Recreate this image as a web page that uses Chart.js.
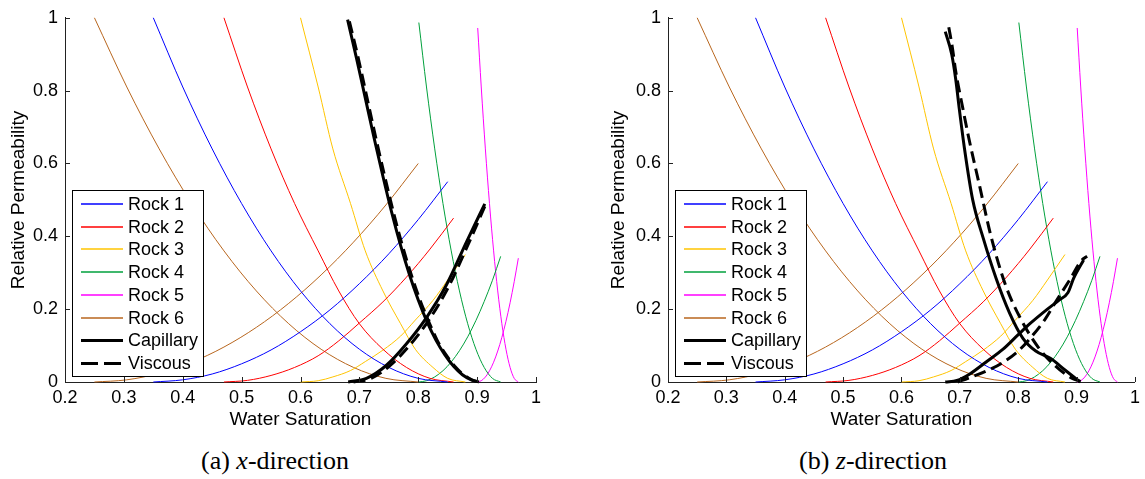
<!DOCTYPE html>
<html>
<head>
<meta charset="utf-8">
<script src="https://cdn.jsdelivr.net/npm/chart.js@4.4.0/dist/chart.umd.min.js"></script>
<style>
  body { margin: 0; background: #fff; width: 1145px; height: 479px; position: relative; overflow: hidden; }
  .panel { position: absolute; top: 0; }
  .caption { position: absolute; top: 446px; font-family: "Liberation Serif", "Times New Roman", serif; font-size: 26px; color: #000; white-space: nowrap; transform: translateX(-50%); }
</style>
</head>
<body>
<div class="panel" style="left:0px"><canvas id="chartX" width="570" height="440"></canvas></div>
<div class="panel" style="left:603px"><canvas id="chartZ" width="542" height="440"></canvas></div>
<div class="caption" style="left:275px">(a) <i>x</i>-direction</div>
<div class="caption" style="left:873px">(b) <i>z</i>-direction</div>
<script>
// axis ticks
const xTicks = [0.2, 0.3, 0.4, 0.5, 0.6, 0.7, 0.8, 0.9, 1];
const xTickLabels = ['0.2', '0.3', '0.4', '0.5', '0.6', '0.7', '0.8', '0.9', '1'];
const yTicks = [0, 0.2, 0.4, 0.6, 0.8, 1];
const yTickLabels = ['0', '0.2', '0.4', '0.6', '0.8', '1'];

const rockNames = ['Rock 1', 'Rock 2', 'Rock 3', 'Rock 4', 'Rock 5', 'Rock 6'];
const flowNames = ['Capillary', 'Viscous'];

// rock curves (same in both panels): saturation, falling curve, rising curve
const rock1Sw  = [0.35, 0.40, 0.45, 0.50, 0.55, 0.60, 0.65, 0.70, 0.75, 0.80, 0.85];
const rock1Kro = [1.00, 0.81, 0.64, 0.49, 0.36, 0.25, 0.16, 0.09, 0.04, 0.01, 0.00];
const rock1Krw = [0.00, 0.006, 0.022, 0.05, 0.088, 0.138, 0.198, 0.27, 0.352, 0.446, 0.55];

const rock2Sw  = [0.47, 0.51, 0.55, 0.59, 0.63, 0.665, 0.70, 0.74, 0.78, 0.82, 0.86];
const rock2Kro = [1.00, 0.81, 0.64, 0.49, 0.36, 0.25, 0.16, 0.09, 0.04, 0.01, 0.00];
const rock2Krw = [0.00, 0.0045, 0.018, 0.04, 0.072, 0.113, 0.162, 0.22, 0.288, 0.365, 0.45];

const rock3Sw  = [0.60, 0.63, 0.655, 0.685, 0.71, 0.74, 0.77, 0.795, 0.825, 0.85, 0.88];
const rock3Kro = [1.00, 0.81, 0.64, 0.49, 0.36, 0.25, 0.16, 0.09, 0.04, 0.01, 0.00];
const rock3Krw = [0.00, 0.0035, 0.014, 0.0315, 0.056, 0.0875, 0.126, 0.17, 0.224, 0.28, 0.35];

const rock4Sw  = [0.801, 0.814, 0.828, 0.842, 0.856, 0.87, 0.884, 0.898, 0.912, 0.926, 0.94];
const rock4Kro = [0.987, 0.81, 0.64, 0.49, 0.36, 0.25, 0.16, 0.09, 0.04, 0.01, 0.00];
const rock4Krw = [0.00, 0.0035, 0.014, 0.031, 0.055, 0.086, 0.124, 0.169, 0.221, 0.279, 0.345];

const rock5Sw  = [0.901, 0.907, 0.914, 0.921, 0.928, 0.935, 0.942, 0.949, 0.956, 0.963, 0.97];
const rock5Kro = [0.972, 0.81, 0.64, 0.49, 0.36, 0.25, 0.16, 0.09, 0.04, 0.01, 0.00];
const rock5Krw = [0.00, 0.0034, 0.0136, 0.0306, 0.0544, 0.085, 0.1224, 0.1666, 0.2176, 0.2754, 0.34];

const rock6Sw  = [0.25, 0.305, 0.36, 0.415, 0.47, 0.525, 0.58, 0.635, 0.69, 0.745, 0.80];
const rock6Kro = [1.00, 0.81, 0.64, 0.49, 0.36, 0.25, 0.16, 0.09, 0.04, 0.01, 0.00];
const rock6Krw = [0.00, 0.006, 0.024, 0.054, 0.096, 0.15, 0.216, 0.294, 0.384, 0.486, 0.60];

// upscaled curves, x-direction
const capXDecSw = [0.680, 0.695, 0.710, 0.725, 0.740, 0.755, 0.770, 0.785, 0.800, 0.815, 0.830, 0.845, 0.860, 0.875, 0.890, 0.903];
const capXDecKr = [0.995, 0.890, 0.780, 0.670, 0.565, 0.465, 0.375, 0.295, 0.225, 0.165, 0.115, 0.075, 0.043, 0.020, 0.006, 0.000];
const capXIncSw = [0.681, 0.712, 0.746, 0.780, 0.814, 0.848, 0.882, 0.913];
const capXIncKr = [0.000, 0.010, 0.046, 0.105, 0.177, 0.267, 0.385, 0.489];
const visXDecSw = [0.683, 0.698, 0.713, 0.728, 0.743, 0.758, 0.773, 0.788, 0.803, 0.818, 0.832, 0.847, 0.862, 0.877, 0.891, 0.904];
const visXDecKr = [0.990, 0.890, 0.780, 0.670, 0.565, 0.465, 0.375, 0.295, 0.225, 0.165, 0.115, 0.075, 0.043, 0.020, 0.006, 0.000];
const visXIncSw = [0.690, 0.720, 0.752, 0.785, 0.818, 0.851, 0.884, 0.913];
const visXIncKr = [0.000, 0.010, 0.045, 0.100, 0.170, 0.260, 0.375, 0.482];

// upscaled curves, z-direction
const capZDecSw = [0.675, 0.686, 0.693, 0.699, 0.708, 0.722, 0.740, 0.762, 0.785, 0.808, 0.830, 0.855, 0.880, 0.906];
const capZDecKr = [0.962, 0.900, 0.830, 0.750, 0.640, 0.500, 0.395, 0.285, 0.190, 0.120, 0.085, 0.065, 0.033, 0.000];
const capZIncSw = [0.675, 0.695, 0.717, 0.745, 0.774, 0.800, 0.820, 0.850, 0.870, 0.885, 0.895, 0.912];
const capZIncKr = [0.000, 0.004, 0.022, 0.055, 0.090, 0.130, 0.160, 0.200, 0.225, 0.245, 0.285, 0.335];
const visZDecSw = [0.681, 0.687, 0.693, 0.704, 0.715, 0.734, 0.753, 0.778, 0.803, 0.834, 0.865, 0.890, 0.909];
const visZDecKr = [0.974, 0.920, 0.852, 0.760, 0.672, 0.537, 0.402, 0.267, 0.177, 0.096, 0.042, 0.012, 0.000];
const visZIncSw = [0.696, 0.715, 0.745, 0.771, 0.800, 0.822, 0.845, 0.865, 0.888, 0.909, 0.918];
const visZIncKr = [0.000, 0.011, 0.030, 0.051, 0.085, 0.123, 0.170, 0.222, 0.280, 0.335, 0.345];

const rockColors = ['#0000ff', '#ff0000', '#ffc400', '#00a03c', '#ff00ff', '#b8661e'];
const rockData = [
  [rock1Sw, rock1Kro, rock1Krw],
  [rock2Sw, rock2Kro, rock2Krw],
  [rock3Sw, rock3Kro, rock3Krw],
  [rock4Sw, rock4Kro, rock4Krw],
  [rock5Sw, rock5Kro, rock5Krw],
  [rock6Sw, rock6Kro, rock6Krw]
];

const FONT = '"Liberation Sans", Arial, Helvetica, sans-serif';
Chart.defaults.font.family = FONT;
Chart.defaults.color = '#000';

function pts(xs, ys) {
  return xs.map((x, i) => ({ x: x, y: ys[i] }));
}

function line(label, data, color, width, dash, inLegend, order) {
  return {
    label: label,
    data: data,
    borderColor: color,
    backgroundColor: color,
    borderWidth: width,
    borderDash: dash,
    pointRadius: 0,
    fill: false,
    cubicInterpolationMode: 'monotone',
    inLegend: inLegend,
    order: order
  };
}

function buildDatasets(capDec, capInc, visDec, visInc) {
  const sets = [];
  rockData.forEach((r, i) => {
    sets.push(line(rockNames[i], pts(r[0], r[1]), rockColors[i], 1, [], true, 2));
    sets.push(line(rockNames[i], pts(r[0], r[2]), rockColors[i], 1, [], false, 2));
  });
  sets.push(line(flowNames[0], capDec, '#000', 3, [], true, 1));
  sets.push(line(flowNames[0], capInc, '#000', 3, [], false, 1));
  sets.push(line(flowNames[1], visDec, '#000', 3, [12, 6], true, 0));
  sets.push(line(flowNames[1], visInc, '#000', 3, [12, 6], false, 0));
  return sets;
}

// MATLAB style ticks pointing into the plot
const inwardTicks = {
  id: 'inwardTicks',
  afterDatasetsDraw(chart) {
    const ctx = chart.ctx;
    const a = chart.chartArea;
    const sx = chart.scales.x, sy = chart.scales.y;
    ctx.save();
    ctx.strokeStyle = '#222';
    ctx.lineWidth = 1;
    ctx.beginPath();
    xTicks.forEach(v => {
      const px = Math.round(sx.getPixelForValue(v)) + 0.5;
      ctx.moveTo(px, a.bottom);
      ctx.lineTo(px, a.bottom - 5);
    });
    yTicks.forEach(v => {
      const py = Math.round(sy.getPixelForValue(v)) + 0.5;
      ctx.moveTo(a.left, py);
      ctx.lineTo(a.left + 5, py);
    });
    ctx.stroke();
    ctx.restore();
  }
};

// legend box in the lower left corner of the plot
const boxLegend = {
  id: 'boxLegend',
  afterDraw(chart) {
    const ctx = chart.ctx;
    const x0 = chart.chartArea.left + 7, y0 = 190, w = 131, h = 186;
    ctx.save();
    ctx.fillStyle = '#fff';
    ctx.fillRect(x0, y0, w, h);
    ctx.strokeStyle = '#000';
    ctx.lineWidth = 1;
    ctx.strokeRect(x0 + 0.5, y0 + 0.5, w, h);
    ctx.font = '18px ' + FONT;
    ctx.textBaseline = 'middle';
    const items = chart.data.datasets.filter(d => d.inLegend);
    items.forEach((d, i) => {
      const thick = d.borderWidth > 1;
      const y = Math.round(y0 + 14 + i * 22.7) + (thick ? 0.5 : 0);
      ctx.strokeStyle = d.borderColor;
      ctx.lineWidth = thick ? 3 : 1.4;
      ctx.setLineDash(d.borderDash.length ? [17, 6] : []);
      ctx.beginPath();
      ctx.moveTo(x0 + 9, y);
      ctx.lineTo(x0 + 51, y);
      ctx.stroke();
      ctx.setLineDash([]);
      ctx.fillStyle = '#000';
      ctx.fillText(d.label, x0 + 56, y + 1);
    });
    ctx.restore();
  }
};

function makeChart(id, datasets, plotLeft, plotRight, canvasW, yTitlePad) {
  const plotTop = 13, plotBottom = 382, canvasH = 440;
  return new Chart(document.getElementById(id), {
    type: 'line',
    data: { datasets: datasets },
    options: {
      responsive: false,
      animation: false,
      clip: false,
      layout: { padding: { left: 0, top: plotTop, right: canvasW - plotRight, bottom: 0 } },
      plugins: { legend: { display: false }, tooltip: { enabled: false } },
      scales: {
        x: {
          type: 'linear',
          min: 0.2,
          max: 1,
          afterBuildTicks: s => { s.ticks = xTicks.map(v => ({ value: v })); },
          afterFit: s => { s.height = canvasH - plotBottom; },
          ticks: { autoSkip: false, maxRotation: 0, padding: 5, font: { size: 18 }, color: '#000',
                   callback: (v, i) => xTickLabels[i] },
          grid: { display: true, drawOnChartArea: false, drawTicks: false },
          border: { display: true, color: '#222', width: 1 },
          title: { display: true, text: 'Water Saturation', font: { size: 19 }, color: '#000',
                   padding: { top: 0, bottom: 9 } }
        },
        y: {
          type: 'linear',
          min: 0,
          max: 1,
          afterBuildTicks: s => { s.ticks = yTicks.map(v => ({ value: v })); },
          afterFit: s => { s.width = plotLeft; },
          ticks: { autoSkip: false, padding: 7, font: { size: 18 }, color: '#000',
                   callback: (v, i) => yTickLabels[i] },
          grid: { display: true, drawOnChartArea: false, drawTicks: false },
          border: { display: true, color: '#222', width: 1 },
          title: { display: true, text: 'Relative Permeability', font: { size: 19 }, color: '#000',
                   padding: { top: yTitlePad, bottom: 0 } }
        }
      }
    },
    plugins: [inwardTicks, boxLegend]
  });
}

makeChart('chartX',
  buildDatasets(pts(capXDecSw, capXDecKr), pts(capXIncSw, capXIncKr), pts(visXDecSw, visXDecKr), pts(visXIncSw, visXIncKr)),
  65, 536, 570, 7);
makeChart('chartZ',
  buildDatasets(pts(capZDecSw, capZDecKr), pts(capZIncSw, capZIncKr), pts(visZDecSw, visZDecKr), pts(visZIncSw, visZIncKr)),
  65, 532, 542, 4);
</script>
</body>
</html>
